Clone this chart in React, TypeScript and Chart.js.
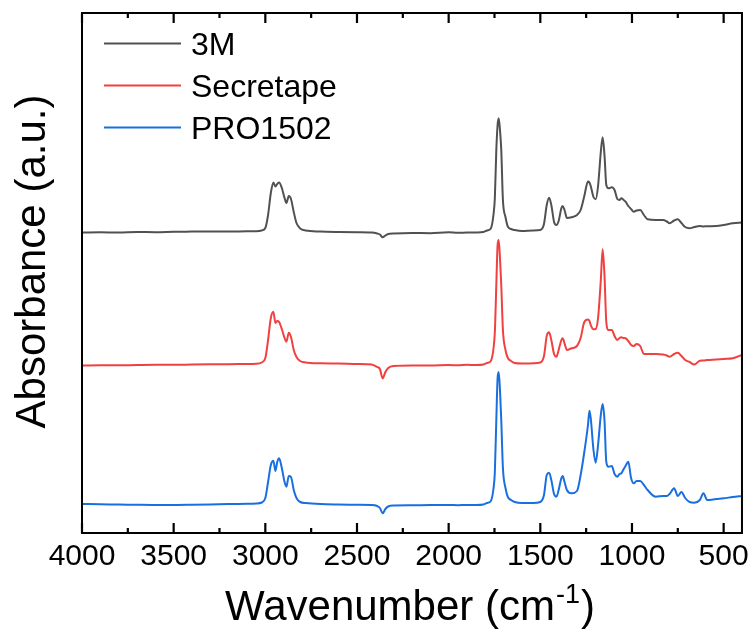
import React, { useEffect, useRef } from "react";
import { Chart, registerables } from "chart.js";

Chart.register(...registerables);

// FTIR absorbance spectra of three adhesive tapes, stacked with vertical offsets.
const wavenumbers = [
  4000, 3900, 3800, 3700, 3600, 3500, 3400, 3300, 3200, 3100,
  3050, 3020, 3000, 2985, 2970, 2956, 2945, 2935, 2925, 2910,
  2895, 2885, 2872, 2860, 2845, 2830, 2810, 2780, 2700, 2600,
  2500, 2420, 2390, 2375, 2360, 2345, 2330, 2300, 2200, 2100,
  2000, 1950, 1900, 1850, 1810, 1790, 1770, 1755, 1748, 1740,
  1733, 1727, 1720, 1713, 1704, 1690, 1677, 1660, 1640, 1600,
  1540, 1500, 1480, 1465, 1452, 1440, 1425, 1412, 1400, 1385,
  1378, 1368, 1355, 1330, 1300, 1280, 1260, 1240, 1232, 1225,
  1210, 1198, 1185, 1170, 1160, 1150, 1140, 1128, 1110, 1095,
  1080, 1068, 1058, 1048, 1035, 1020, 1005, 990, 975, 955,
  935, 915, 870, 830, 810, 795, 770, 750, 730, 710,
  686, 660, 630, 610, 590, 540, 500, 450, 400,
];

const abs3M = [
  300.5, 300.7, 300.5, 301.0, 300.8, 301.2, 301.4, 301.6, 301.5, 301.7,
  301.8, 302.5, 305, 318, 340, 350.5, 346.5, 349, 350.5, 345,
  335, 330, 337, 334, 321, 310, 304.5, 302.5, 301.5, 301,
  300.7, 300.4, 299.5, 298.5, 295.7, 297.5, 299, 299.5, 300, 299.8,
  300.7, 300.2, 300.5, 300.6, 301, 302.5, 304.5, 319, 335, 383,
  408, 414.7, 403, 383, 333, 316, 306.3, 304, 303, 302,
  302.5, 303, 309, 328, 335.3, 328, 311, 308, 312, 325,
  327, 323, 315, 315.7, 318, 323, 337, 351.5, 350.5, 347,
  336, 333.7, 347, 381, 395.7, 378, 348, 344.7, 345.7, 343,
  334, 333, 334.7, 333.5, 331.3, 327, 324, 321.3, 322.5, 323,
  318, 313.7, 313, 313, 311.5, 309.7, 312.5, 313.7, 310, 306,
  304.7, 306, 307, 306.5, 306.8, 307, 308, 309.7, 310.5,
];

const absSecretape = [
  167.5, 167.8, 167.7, 168, 168.2, 168.2, 168.5, 168.7, 168.8, 169,
  169.2, 170.5, 175, 193, 215, 221.3, 210, 212, 211, 204,
  195, 191.3, 200.3, 196, 183, 176, 172, 170.5, 169.7, 169.5,
  169, 168.5, 166, 164, 154.7, 161, 165, 167, 167.5, 167.5,
  168, 167.7, 168.2, 168, 168.5, 170, 172, 185, 201, 248,
  288, 293, 275, 248, 203, 183, 175, 172, 170, 169.5,
  169.7, 170.5, 177, 197, 200.7, 193, 179, 176.3, 183, 193,
  194.7, 189.7, 183, 184.7, 187, 195, 211, 213.5, 212, 208,
  203.7, 204, 215, 253, 283.7, 258, 211, 203, 203, 197,
  193, 195, 195.7, 195, 194.7, 192, 188, 187, 189, 187,
  179, 179, 179, 178.5, 177.5, 176.3, 179, 180.3, 177, 173,
  171, 168.5, 172.3, 172.5, 173, 173.5, 174, 174.7, 178,
];

const absPRO1502 = [
  29, 28.7, 28.5, 28.2, 28, 28, 28.2, 28.5, 29, 29.2,
  29.5, 30.5, 35, 51, 68, 72.3, 62, 71, 74.7, 65,
  51, 46.3, 57, 56, 43, 35, 31, 30, 29, 28.5,
  28.2, 28, 27, 25, 19.7, 24, 26.5, 27.5, 27.7, 28,
  28, 27.8, 28, 28, 28.5, 30, 32, 45, 61, 113,
  155, 161, 143, 113, 65, 45, 36, 33, 31, 30,
  30, 31, 38, 58, 60.3, 53, 39, 36.3, 43, 55,
  57, 51, 43, 39.7, 42, 58, 81, 108, 122.3, 115,
  83, 70.3, 88, 118, 129, 113, 71, 66.3, 67, 59,
  56.3, 59, 59.7, 63, 67, 71.3, 55, 49.7, 52, 52,
  48, 43, 36.3, 37, 37, 39, 44.7, 37, 41, 35,
  31, 30.3, 33, 39.7, 33, 34, 34.7, 36, 37,
];

const seriesNames = ["3M", "Secretape", "PRO1502"];
const seriesValues = [abs3M, absSecretape, absPRO1502];
const seriesColors = ["#515151", "#F14040", "#1A6FDF"];

const majorTicks = [4000, 3500, 3000, 2500, 2000, 1500, 1000, 500];
const minorTicks = [3750, 3250, 2750, 2250, 1750, 1250, 750];

const xTitleMain = "Wavenumber (cm";
const xTitleSup = "-1";
const xTitleEnd = ")";
const yTitle = "Absorbance (a.u.)";

const FONT = "'Liberation Sans', Arial, Helvetica, sans-serif";

// Box frame, inward ticks, axis titles and the in-plot legend.
const decorPlugin = {
  id: "decor",
  afterDraw(chart: any) {
    const { ctx, chartArea: a, scales } = chart;
    const xs = scales.x;
    ctx.save();
    ctx.strokeStyle = "#000000";
    ctx.fillStyle = "#000000";

    // inward ticks on bottom and top edges
    ctx.lineWidth = 2.2;
    const tick = (v: number, len: number) => {
      const px = xs.getPixelForValue(v);
      ctx.beginPath();
      ctx.moveTo(px, a.bottom);
      ctx.lineTo(px, a.bottom - len);
      ctx.moveTo(px, a.top);
      ctx.lineTo(px, a.top + len);
      ctx.stroke();
    };
    majorTicks.forEach((v) => tick(v, 10));
    minorTicks.forEach((v) => tick(v, 5));

    ctx.lineWidth = 2;
    ctx.strokeRect(a.left, a.top, a.right - a.left, a.bottom - a.top);

    // x title with superscript
    const mainFont = `42px ${FONT}`;
    const supFont = `27px ${FONT}`;
    ctx.font = mainFont;
    const wMain = ctx.measureText(xTitleMain).width;
    const wEnd = ctx.measureText(xTitleEnd).width;
    ctx.font = supFont;
    const wSup = ctx.measureText(xTitleSup).width;
    const total = wMain + wSup + wEnd + 2;
    let x0 = 410 - total / 2;
    const base = 620;
    ctx.textAlign = "left";
    ctx.textBaseline = "alphabetic";
    ctx.font = mainFont;
    ctx.fillText(xTitleMain, x0, base);
    x0 += wMain + 1;
    ctx.font = supFont;
    ctx.fillText(xTitleSup, x0, base - 17);
    x0 += wSup + 1;
    ctx.font = mainFont;
    ctx.fillText(xTitleEnd, x0, base);

    // y title
    ctx.save();
    ctx.translate(45, 261.5);
    ctx.rotate(-Math.PI / 2);
    ctx.textAlign = "center";
    ctx.font = mainFont;
    ctx.fillText(yTitle, 0, 0);
    ctx.restore();

    // legend
    ctx.font = `32px ${FONT}`;
    ctx.textAlign = "left";
    chart.data.datasets.forEach((ds: any, i: number) => {
      const y = 43.5 + i * 42;
      ctx.strokeStyle = ds.borderColor;
      ctx.lineWidth = 2;
      ctx.beginPath();
      ctx.moveTo(104, y);
      ctx.lineTo(181, y);
      ctx.stroke();
      ctx.fillStyle = "#000000";
      ctx.fillText(ds.label, 191, y + 11.5);
    });
    ctx.restore();
  },
};

export default function App() {
  const canvasRef = useRef<HTMLCanvasElement | null>(null);

  useEffect(() => {
    const canvas = canvasRef.current;
    if (!canvas) return;
    const chart = new Chart(canvas, {
      type: "line",
      data: {
        datasets: seriesNames.map((name, i) => ({
          label: name,
          data: wavenumbers.map((w, j) => ({ x: w, y: seriesValues[i][j] })),
          borderColor: seriesColors[i],
          backgroundColor: seriesColors[i],
          borderWidth: 2,
          pointRadius: 0,
          cubicInterpolationMode: "monotone",
          fill: false,
        })),
      },
      options: {
        responsive: false,
        animation: false,
        devicePixelRatio: 1,
        layout: { padding: { left: 82, top: 13, right: 12, bottom: 0 } },
        plugins: {
          legend: { display: false },
          tooltip: { enabled: false },
          title: { display: false },
        },
        scales: {
          x: {
            type: "linear",
            min: 400,
            max: 4000,
            reverse: true,
            grid: { display: false, drawTicks: false },
            border: { display: false },
            afterBuildTicks: (scale: any) => {
              scale.ticks = majorTicks.map((v) => ({ value: v }));
            },
            afterFit: (scale: any) => {
              scale.height = 100;
            },
            ticks: {
              color: "#000",
              padding: 6,
              maxRotation: 0,
              autoSkip: false,
              font: { family: FONT, size: 30 },
              callback: (value: any) => String(value),
            },
          },
          y: {
            type: "linear",
            min: 0,
            max: 520,
            display: false,
          },
        },
      },
      plugins: [decorPlugin],
    });
    return () => chart.destroy();
  }, []);

  return (
    <div style={{ position: "fixed", left: 0, top: 0, width: 755, height: 633, background: "#fff" }}>
      <canvas ref={canvasRef} width={755} height={633} style={{ width: 755, height: 633 }} />
    </div>
  );
}
